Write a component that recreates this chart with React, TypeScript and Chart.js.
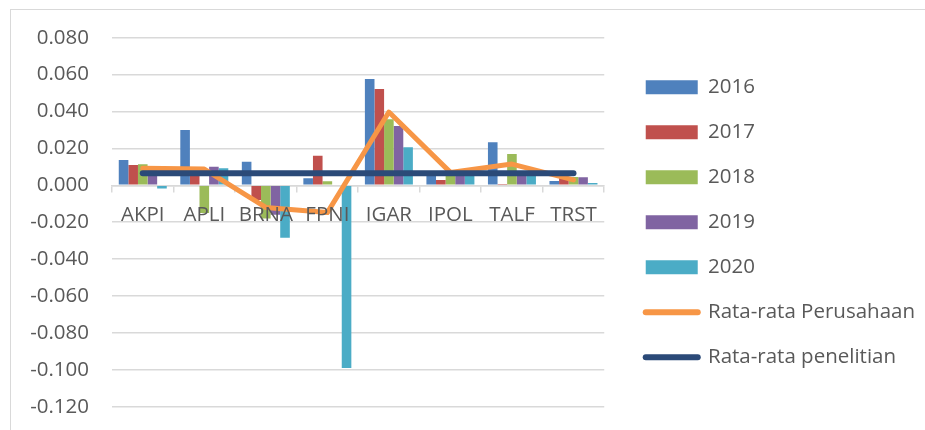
import { useEffect, useRef } from 'react';
import { Chart, registerables } from 'chart.js';

Chart.register(...registerables);

// Companies on the category axis
const categories = ['AKPI', 'APLI', 'BRNA', 'FPNI', 'IGAR', 'IPOL', 'TALF', 'TRST'];

// Yearly values per company
const y2016 = [0.0137, 0.03, 0.0128, 0.0038, 0.0576, 0.007, 0.0233, 0.0023];
const y2017 = [0.011, 0.0092, -0.008, 0.016, 0.0522, 0.0029, 0.0007, 0.0038];
const y2018 = [0.0114, -0.015, -0.018, 0.0022, 0.0358, 0.008, 0.017, 0.0045];
const y2019 = [0.0095, 0.0101, -0.016, 0.0, 0.0321, 0.0075, 0.007, 0.0043];
const y2020 = [-0.0018, 0.0092, -0.0284, -0.099, 0.0206, 0.0075, 0.007, 0.0012];

// Averages
const rataPerusahaan = [0.0092, 0.0088, -0.012, -0.0148, 0.0397, 0.007, 0.0115, 0.0029];
const rataPenelitian = [0.0065, 0.0065, 0.0065, 0.0065, 0.0065, 0.0065, 0.0065, 0.0065];

// Value axis
const yMin = -0.12;
const yMax = 0.08;
const yStep = 0.02;

const TEXT = '#595959';
const GRID = '#d9d9d9';
const FONT = '"Open Sans"';
const FONT_SIZE = 20.5;

export default function App() {
  const ref = useRef<HTMLCanvasElement>(null);

  useEffect(() => {
    if (!ref.current) return;
    const bar = (label: string, data: number[], color: string) => ({
      type: 'bar' as const,
      label,
      data,
      backgroundColor: color,
      borderWidth: 0,
      order: 2,
      categoryPercentage: 0.78,
      barPercentage: 1.0,
    });

    const chart = new Chart(ref.current, {
      type: 'bar',
      data: {
        labels: categories,
        datasets: [
          bar('2016', y2016, '#4F81BD'),
          bar('2017', y2017, '#C0504D'),
          bar('2018', y2018, '#9BBB59'),
          bar('2019', y2019, '#8064A2'),
          bar('2020', y2020, '#4BACC6'),
          {
            type: 'line',
            label: 'Rata-rata Perusahaan',
            data: rataPerusahaan,
            borderColor: '#F79646',
            backgroundColor: '#F79646',
            borderWidth: 5,
            pointRadius: 0,
            borderJoinStyle: 'round',
            borderCapStyle: 'round',
            order: 1,
          },
          {
            type: 'line',
            label: 'Rata-rata penelitian',
            data: rataPenelitian,
            borderColor: '#2B4A78',
            backgroundColor: '#2B4A78',
            borderWidth: 6,
            pointRadius: 0,
            borderCapStyle: 'round',
            order: 0,
          },
        ] as any,
      },
      options: {
        animation: false,
        responsive: false,
        devicePixelRatio: 1,
        layout: { padding: { top: 37.7, bottom: 23.3, left: 0, right: 0 } },
        plugins: {
          tooltip: { enabled: false },
          legend: {
            position: 'right',
            align: 'center',
            maxWidth: 400,
            labels: {
              usePointStyle: true,
              pointStyleWidth: 52,
              boxHeight: 14,
              padding: 24.5,
              color: TEXT,
              font: { family: FONT, size: FONT_SIZE },
              generateLabels: (c: any) =>
                c.data.datasets.map((ds: any, i: number) => {
                  const isLine = ds.type === 'line';
                  return {
                    text: ds.label,
                    fillStyle: ds.backgroundColor,
                    strokeStyle: ds.borderColor ?? ds.backgroundColor,
                    lineWidth: isLine ? 6 : 0,
                    lineCap: 'round',
                    pointStyle: isLine ? 'line' : 'rect',
                    fontColor: TEXT,
                    hidden: false,
                    datasetIndex: i,
                  };
                }),
            },
          },
        },
        scales: {
          x: {
            position: { y: 0 } as any,
            offset: true,
            grid: {
              offset: true,
              drawOnChartArea: false,
              drawTicks: true,
              tickLength: 6,
              color: GRID,
              lineWidth: 1.5,
            },
            border: { display: true, color: GRID, width: 1.5 },
            ticks: {
              // category labels sit on top of the bars and lines
              z: 1,
              color: TEXT,
              font: { family: FONT, size: FONT_SIZE },
              padding: 12,
              maxRotation: 0,
              autoSkip: false,
            },
          },
          y: {
            min: yMin,
            max: yMax,
            afterFit: (s: any) => {
              s.width = 112;
            },
            // invisible tick marks keep the labels clear of the plot
            grid: {
              color: GRID,
              lineWidth: 1.5,
              drawTicks: true,
              tickLength: 23,
              tickColor: 'transparent',
            },
            border: { display: false },
            ticks: {
              stepSize: yStep,
              padding: 0,
              color: TEXT,
              font: { family: FONT, size: FONT_SIZE },
              callback: (v: any) => {
                const n = Math.abs(Number(v)) < 1e-9 ? 0 : Number(v);
                return n.toFixed(3);
              },
            },
          },
          gap: {
            type: 'linear',
            position: 'right',
            display: true,
            grid: { display: false },
            ticks: { display: false },
            border: { display: false },
            afterFit: (s: any) => {
              s.width = 17;
            },
          },
        },
      } as any,
    });
    return () => chart.destroy();
  }, []);

  return (
    <div
      style={{
        position: 'absolute',
        left: 0,
        top: 0,
        width: 925,
        height: 430,
        overflow: 'hidden',
        background: '#fff',
      }}
    >
      <div
        style={{
          position: 'absolute',
          left: 10,
          top: 9,
          width: 1000,
          height: 1000,
          border: '1px solid #d9d9d9',
        }}
      />
      <canvas ref={ref} width={925} height={430} style={{ position: 'absolute', left: 0, top: 0 }} />
    </div>
  );
}
